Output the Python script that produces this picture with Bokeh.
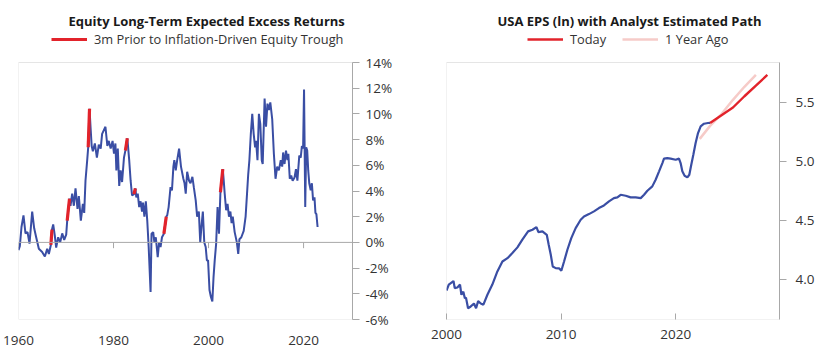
from bokeh.plotting import figure
from bokeh.layouts import row
from bokeh.models import (Range1d, FixedTicker, PrintfTickFormatter, Legend,
                          LegendItem, Span, BoxAnnotation)
from bokeh.embed import file_html
from bokeh.resources import INLINE

# ---------------- data: left chart (equity expected excess returns, %) ----------------
er_years = [1960.0, 1960.28, 1960.63, 1961.05, 1961.47, 1961.9, 1962.32, 1962.88, 1963.3, 1963.72,
            1964.28, 1964.98, 1965.55, 1966.04, 1966.39, 1966.81, 1967.05, 1967.3, 1967.65, 1967.93,
            1968.35, 1968.77, 1969.2, 1969.62, 1970.04, 1970.25, 1970.5, 1970.74, 1970.95, 1971.3,
            1971.65, 1972.0, 1972.42, 1972.7, 1973.12, 1973.55, 1973.83, 1974.1, 1974.46, 1974.67,
            1974.95, 1975.16, 1975.4, 1975.65, 1976.07, 1976.5, 1976.9, 1977.3, 1977.6, 1978.3,
            1978.7, 1979.0, 1979.4, 1979.8, 1980.1, 1980.4, 1980.6, 1980.9, 1981.2, 1981.5,
            1981.8, 1982.2, 1982.5, 1982.9, 1983.0, 1983.3, 1983.6, 1983.9, 1984.3, 1984.6,
            1984.8, 1985.1, 1985.4, 1985.7, 1986.0, 1986.2, 1986.5, 1986.8, 1987.1, 1987.4,
            1987.8, 1988.0, 1988.35, 1988.6, 1988.9, 1989.3, 1989.6, 1989.9, 1990.2, 1990.6,
            1991.1, 1991.3, 1991.6, 1992.0, 1992.3, 1992.6, 1992.8, 1993.1, 1993.4, 1993.8,
            1994.2, 1994.7, 1994.95, 1995.2, 1995.5, 1995.9, 1996.2, 1996.6, 1996.9, 1997.3,
            1997.6, 1997.96, 1998.25, 1998.5, 1998.8, 1999.1, 1999.4, 1999.65, 1999.9, 2000.2,
            2000.5, 2000.8, 2001.05, 2001.3, 2001.6, 2001.9, 2002.2, 2002.5, 2002.75, 2003.0,
            2003.2, 2003.4, 2003.7, 2004.0, 2004.3, 2004.6, 2004.85, 2005.1, 2005.5, 2005.96,
            2006.25, 2006.5, 2006.9, 2007.4, 2007.8, 2008.1, 2008.35, 2008.6, 2008.9, 2009.2,
            2009.5, 2009.8, 2010.0, 2010.3, 2010.6, 2010.9, 2011.2, 2011.4, 2011.8, 2012.1,
            2012.4, 2012.7, 2013.0, 2013.4, 2013.75, 2014.1, 2014.45, 2014.8, 2015.2, 2015.5,
            2015.7, 2016.0, 2016.3, 2016.6, 2016.8, 2017.1, 2017.4, 2017.7, 2018.1, 2018.4,
            2018.7, 2019.1, 2019.4, 2019.65, 2019.9, 2020.1, 2020.35, 2020.55, 2020.77, 2020.98,
            2021.2, 2021.5, 2021.75, 2022.0, 2022.3, 2022.5, 2022.7, 2022.95]
er_values = [-0.6, -0.3, 1.2, 2.1, 0.7, 0.8, -0.1, 2.4, 1.1, 0.4,
             -0.5, -0.75, -1.1, -0.5, -0.9, -0.2, 1.0, 1.4, 0.5, -0.4,
             0.4, 0.0, 0.7, 0.2, 0.6, 1.7, 2.6, 3.4, 2.85, 3.8,
             2.85, 4.2, 2.6, 3.6, 1.7, 3.0, 2.3, 4.8, 6.4, 7.4,
             10.4, 9.0, 7.5, 7.1, 7.7, 6.6, 7.6, 7.3, 8.45, 9.0,
             7.5, 7.9, 7.3, 7.9, 6.9, 7.7, 5.6, 7.3, 4.4, 5.6,
             4.7, 6.6, 7.15, 8.1, 7.7, 6.4, 4.8, 3.65, 3.75, 4.2,
             3.5, 3.8, 2.75, 3.2, 2.4, 3.1, 2.0, 3.2, 1.7, -0.36,
             -3.86, 0.67, 0.8, 0.0, 0.4, -1.14, 0.0, -0.36, 0.4, 0.67,
             2.0, 2.1, 2.75, 4.3, 4.05, 5.9, 6.4, 5.6, 6.4, 7.3,
             5.9, 4.95, 4.6, 3.8, 5.5, 4.8, 4.6, 5.1, 4.3, 3.27,
             2.0, 2.4, 0.0, 1.2, 2.4, 0.0, -0.36, -1.4, -1.4, -3.7,
             -4.25, -4.6, -2.7, -1.4, -0.1, 2.75, 0.67, 3.9, 4.8, 5.7,
             4.8, 3.8, 2.5, 3.0, 2.0, 2.4, 1.5, 2.0, 0.8, 0.0,
             -0.9, 0.25, 0.4, 0.9, 2.0, 3.8, 5.3, 6.4, 8.45, 10.0,
             8.45, 7.4, 7.9, 6.4, 10.0, 9.2, 6.4, 6.1, 11.2, 9.0,
             10.8, 10.3, 10.9, 9.6, 6.9, 4.95, 5.9, 5.6, 6.4, 5.9,
             7.0, 6.1, 7.15, 6.4, 6.9, 4.95, 5.2, 4.8, 5.05, 5.7,
             4.8, 6.75, 6.6, 7.5, 7.3, 11.9, 2.75, 7.4, 7.15, 5.6,
             4.6, 4.05, 4.6, 3.27, 3.5, 2.3, 2.2, 1.2]
# 3 months prior to inflation-driven equity troughs (start, end)
trough_periods = [(1966.8, 1967.1), (1970.2, 1970.8), (1974.6, 1975.0), (1982.45, 1982.95),
                  (1984.25, 1984.65), (1990.55, 1991.15), (2002.45, 2003.05)]
left_x_ticks = [1960, 1980, 2000, 2020]
left_y_ticks = [-6, -4, -2, 0, 2, 4, 6, 8, 10, 12, 14]
left_x_lim = (1960, 2030.3)
left_y_lim = (-6, 14)

# ---------------- data: right chart (USA EPS, ln) ----------------
eps_years = [2000.0, 2000.2, 2000.61, 2000.72, 2000.95, 2001.18, 2001.3, 2001.47, 2001.6, 2001.7,
             2001.88, 2002.05, 2002.4, 2002.58, 2002.76, 2002.99, 2003.22, 2003.57, 2004.0, 2004.44,
             2004.88, 2005.32, 2005.75, 2006.19, 2006.62, 2007.12, 2007.5, 2007.85, 2008.02, 2008.37,
             2008.75, 2008.92, 2009.1, 2009.27, 2009.53, 2009.82, 2010.02, 2010.26, 2010.55, 2010.89,
             2011.27, 2011.71, 2012.0, 2012.43, 2012.87, 2013.3, 2013.74, 2014.18, 2014.61, 2014.91,
             2015.2, 2015.64, 2016.07, 2016.51, 2016.95, 2017.24, 2017.53, 2017.96, 2018.25, 2018.55,
             2018.84, 2018.98, 2019.27, 2019.56, 2020.0, 2020.29, 2020.43, 2020.58, 2020.78, 2021.02,
             2021.19, 2021.36, 2021.54, 2021.74, 2021.95, 2022.18, 2022.47, 2022.82, 2023.0]
eps_values = [3.91, 3.96, 3.99, 3.93, 3.935, 3.96, 3.874, 3.90, 3.845, 3.85,
              3.76, 3.77, 3.80, 3.76, 3.82, 3.80, 3.79, 3.874, 3.96, 4.071,
              4.155, 4.183, 4.226, 4.274, 4.339, 4.409, 4.423, 4.445, 4.403, 4.409,
              4.38, 4.296, 4.212, 4.113, 4.099, 4.097, 4.077, 4.155, 4.254, 4.352,
              4.437, 4.507, 4.535, 4.555, 4.578, 4.606, 4.628, 4.662, 4.69, 4.696,
              4.718, 4.71, 4.696, 4.696, 4.69, 4.718, 4.752, 4.789, 4.845, 4.916,
              4.986, 5.023, 5.028, 5.023, 5.014, 5.023, 4.986, 4.916, 4.879, 4.865,
              4.887, 4.972, 5.056, 5.155, 5.239, 5.296, 5.318, 5.324, 5.325]
today_years = [2023.0, 2024.0, 2025.0, 2026.0, 2027.0, 2028.0]
today_values = [5.325, 5.39, 5.455, 5.55, 5.64, 5.73]
year_ago_years = [2022.1, 2023.0, 2024.0, 2025.0, 2026.0, 2027.0]
year_ago_values = [5.19, 5.30, 5.40, 5.52, 5.63, 5.73]
right_x_ticks = [2000, 2010, 2020]
right_y_ticks = [4.0, 4.5, 5.0, 5.5]
right_x_lim = (2000, 2029.06)
right_y_lim = (3.665, 5.835)

# ---------------- styling ----------------
FONT = "Open Sans"
BLUE = "#3a4ea4"
RED = "#e2232b"
PINK = "#f6cbc8"
FRAME = "#a8a8a8"
TEXT = "#333333"
TITLE = "#1a1a1a"
W, H = 420, 357
TOP, BOTTOM = 30, 38          # space above / below the plotting frame
BOX_TOP_PX = 62               # where the visible chart box starts (page px)
FRAME_H = H - TOP - BOTTOM


def headroom(lim):
    # extend the y range upward so the legend fits inside the frame, above the box
    lo, hi = lim
    per_px = (hi - lo) / (H - BOTTOM - BOX_TOP_PX)
    return hi + (BOX_TOP_PX - TOP) * per_px


def make_fig(title, xlim, ylim, left, right, title_offset):
    p = figure(width=W, height=H, x_range=Range1d(*xlim),
               y_range=Range1d(ylim[0], headroom(ylim)), y_axis_location="right",
               min_border_left=left, min_border_right=right,
               min_border_top=TOP, min_border_bottom=BOTTOM,
               output_backend="svg", toolbar_location=None, title=title)
    p.outline_line_color = None
    p.xgrid.visible = False
    p.ygrid.visible = False
    p.title.text_font = FONT
    p.title.text_font_size = "13px"
    p.title.text_font_style = "bold"
    p.title.text_color = TITLE
    p.title.align = "left"
    p.title.offset = title_offset
    p.title.standoff = 2
    for ax in p.xaxis + p.yaxis:
        ax.major_label_text_font = FONT
        ax.major_label_text_font_size = "13.5px"
        ax.major_label_text_color = TEXT
        ax.minor_tick_line_color = None
        ax.axis_line_color = FRAME
        ax.major_tick_line_color = FRAME
    p.xaxis.axis_line_color = None
    p.xaxis.major_label_standoff = 10
    p.yaxis.bounds = ylim
    p.yaxis.major_tick_in = 0
    p.yaxis.major_tick_out = 7
    p.add_layout(BoxAnnotation(left=xlim[0], right=xlim[1], bottom=ylim[0], top=ylim[1],
                               fill_alpha=0, line_color=FRAME, line_width=1))
    return p


def make_legend(items, x_px):
    return Legend(items=items, orientation="horizontal",
                  location=(x_px, FRAME_H - (48 - TOP)), padding=0, margin=0, spacing=16,
                  label_standoff=7, glyph_width=36, glyph_height=16, label_height=16,
                  border_line_alpha=0, background_fill_alpha=0,
                  label_text_font=FONT, label_text_font_size="12.8px", label_text_color=TEXT)


# ---------------- left chart ----------------
p1 = make_fig("Equity Long-Term Expected Excess Returns", left_x_lim, left_y_lim, 18, 68, 50)
p1.xaxis.ticker = FixedTicker(ticks=left_x_ticks)
p1.xaxis.major_tick_line_color = None
p1.yaxis.ticker = FixedTicker(ticks=left_y_ticks)
p1.yaxis.formatter = PrintfTickFormatter(format="%d%%")
p1.yaxis.major_label_standoff = 6

p1.add_layout(Span(location=0, dimension="width", line_color=FRAME, line_width=1))
p1.segment(x0=left_x_ticks, y0=[0] * len(left_x_ticks), x1=left_x_ticks,
           y1=[-0.45] * len(left_x_ticks), line_color=FRAME, line_width=1)

p1.line(er_years, er_values, line_color=BLUE, line_width=2)
red_xs, red_ys = [], []
for a, b in trough_periods:
    red_xs.append([x for x in er_years if a <= x <= b])
    red_ys.append([v for x, v in zip(er_years, er_values) if a <= x <= b])
r_red = p1.multi_line(red_xs, red_ys, line_color=RED, line_width=3.2)

p1.add_layout(make_legend([LegendItem(label="3m Prior to Inflation-Driven Equity Trough",
                                      renderers=[r_red])], 33))

# ---------------- right chart ----------------
p2 = make_fig("USA EPS (ln) with Analyst Estimated Path", right_x_lim, right_y_lim, 26, 61, 51)
p2.xaxis.ticker = FixedTicker(ticks=right_x_ticks)
p2.xaxis.major_tick_in = 6
p2.xaxis.major_tick_out = 0
p2.yaxis.ticker = FixedTicker(ticks=right_y_ticks)
p2.yaxis.formatter = PrintfTickFormatter(format="%.1f")
p2.yaxis.major_label_standoff = 9

r_pink = p2.line(year_ago_years, year_ago_values, line_color=PINK, line_width=2.5)
p2.line(eps_years, eps_values, line_color=BLUE, line_width=2.2)
r_today = p2.line(today_years, today_values, line_color=RED, line_width=2.4)

p2.add_layout(make_legend([LegendItem(label="Today", renderers=[r_today]),
                           LegendItem(label="1 Year Ago", renderers=[r_pink])], 81))

layout = row(p1, p2)
open("out.html", "w").write(file_html(layout, INLINE))
